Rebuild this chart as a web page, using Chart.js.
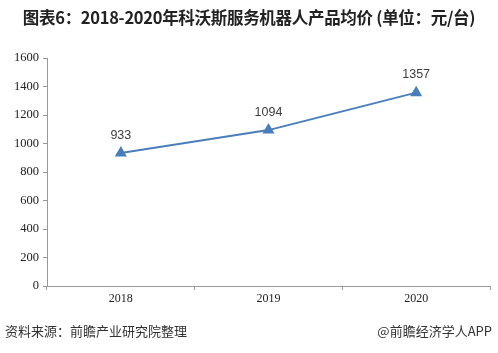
<!DOCTYPE html>
<html><head><meta charset="utf-8">
<script src="https://cdn.jsdelivr.net/npm/chart.js@4"></script>
<style>
html,body{margin:0;padding:0;background:#fff;}
#wrap{position:relative;width:498px;height:353px;overflow:hidden;}
#title{position:absolute;left:0;top:5px;width:498px;text-align:center;font-family:"Noto Sans CJK SC","Liberation Sans",sans-serif;font-weight:bold;font-size:16.5px;color:#222;letter-spacing:-0.3px;white-space:nowrap;}
#src{position:absolute;left:5px;top:321px;font-family:"Noto Sans CJK SC",sans-serif;font-size:13px;color:#333;}
#app{position:absolute;right:6px;top:321px;font-family:"Noto Sans CJK SC",sans-serif;font-size:13px;color:#333;}
canvas{position:absolute;left:0;top:0;}
</style></head>
<body><div id="wrap">
<canvas id="c" width="498" height="353"></canvas>
<div id="title">图表6：2018-2020年科沃斯服务机器人产品均价 (单位：元/台)</div>
<div id="src">资料来源：前瞻产业研究院整理</div>
<div id="app">@前瞻经济学人APP</div>
</div>
<script>
const categories = ["2018", "2019", "2020"];
const prices = [933, 1094, 1357];
const yTicks = [0, 200, 400, 600, 800, 1000, 1200, 1400, 1600];

const labelPlugin = {
  id: 'dataLabels',
  afterDatasetsDraw(chart) {
    const ctx = chart.ctx;
    const meta = chart.getDatasetMeta(0);
    ctx.save();
    ctx.font = '12.5px "Liberation Sans", "DejaVu Sans", sans-serif';
    ctx.fillStyle = '#404040';
    ctx.textAlign = 'center';
    ctx.textBaseline = 'middle';
    meta.data.forEach((pt, i) => {
      ctx.fillText(String(prices[i]), pt.x, pt.y - 18);
    });
    ctx.restore();
  }
};

new Chart(document.getElementById('c'), {
  type: 'line',
  data: {
    labels: categories,
    datasets: [{
      data: prices,
      borderColor: '#4a7ebb',
      backgroundColor: '#4a7ebb',
      borderWidth: 2,
      pointStyle: 'triangle',
      pointRadius: 5,
      pointHoverRadius: 5,
      tension: 0,
      fill: false
    }]
  },
  options: {
    responsive: false,
    animation: false,
    layout: { padding: { top: 58, right: 8, left: 0, bottom: 37 } },
    plugins: { legend: { display: false }, tooltip: { enabled: false }, title: { display: false } },
    scales: {
      x: {
        offset: true,
        grid: { offset: true, drawOnChartArea: false, drawTicks: true, tickLength: 4, color: '#999' },
        border: { color: '#999' },
        ticks: { font: { family: '"Liberation Serif", serif', size: 12 }, color: '#222', padding: 2 },
        afterFit(s) { s.height = 30; }
      },
      y: {
        min: 0, max: 1600,
        afterBuildTicks(s) { s.ticks = yTicks.map(v => ({ value: v })); },
        grid: { drawOnChartArea: false, drawTicks: true, tickLength: 4, color: '#999' },
        border: { color: '#999' },
        ticks: { font: { family: '"Liberation Serif", serif', size: 12.5 }, color: '#222', padding: 4, callback: v => String(v) },
        afterFit(s) { s.width = 47; }
      }
    }
  },
  plugins: [labelPlugin]
});
</script>
</body></html>
